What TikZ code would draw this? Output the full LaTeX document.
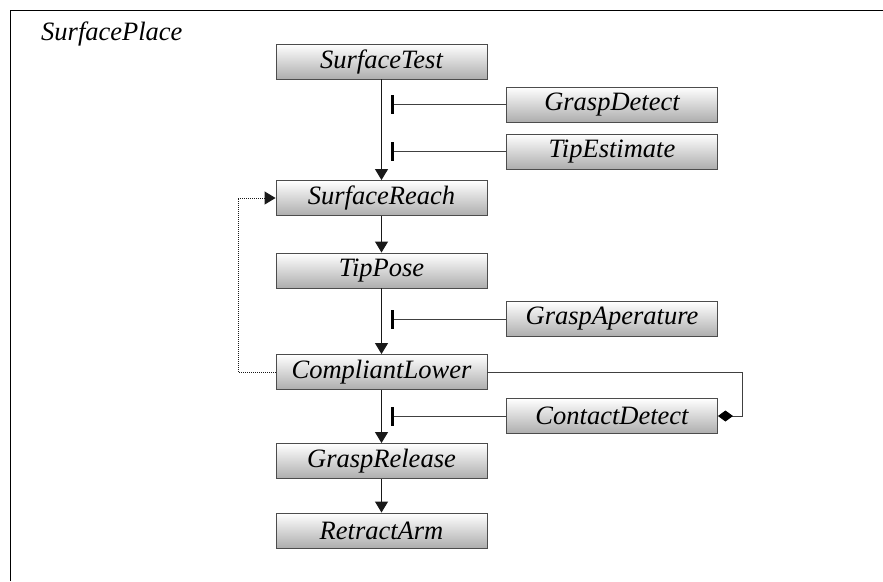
\documentclass[tikz,border=0pt]{standalone}
\usepackage{fontspec}
\setmainfont{Liberation Serif}
\usetikzlibrary{arrows.meta}
\begin{document}
\begin{tikzpicture}[x=1pt,y=-1pt,
  lbl/.style={font=\fontsize{26.5}{31}\selectfont\itshape},
  blk/.style={lbl, rectangle, draw=black!70, line width=0.9pt,
    top color=white, bottom color=black!32,
    minimum width=211pt, minimum height=35pt, inner sep=0pt},
  flow/.style={draw=black!90, line width=1pt, -{Triangle[length=11pt,width=13pt]}},
  inhib/.style={draw=black!75, line width=1pt, -{Rectangle[length=2.6pt,width=19pt,fill=black,color=black]}},
  loopback/.style={draw=black!90, line width=1pt, densely dotted,
    -{Triangle[length=11pt,width=13pt]}},
  mon/.style={draw=black!75, line width=1pt, -{Diamond[length=15pt,width=11pt,color=black]}},
  frame/.style={draw=black, line width=1pt}
]
\useasboundingbox (0,0) rectangle (883,581);

% enclosing frame (open to the right and bottom)
\coordinate (fbl) at (10,581);
\coordinate (fc) at (10,10);
\coordinate (ftr) at (883,10);
\draw[frame] (fbl) -- (fc) -- (ftr);
\node[lbl, anchor=base west, inner sep=0pt] (title) at (41,40) {SurfacePlace};

% main sequence
\node[blk] (ST) at (381.5,61.5)  {SurfaceTest};
\node[blk] (SR) at (381.5,198)   {SurfaceReach};
\node[blk] (TP) at (381.5,270.5) {TipPose};
\node[blk] (CL) at (381.5,372)   {CompliantLower};
\node[blk] (GR) at (381.5,461)   {GraspRelease};
\node[blk] (RA) at (381.5,530.5) {RetractArm};

% side conditions
\node[blk] (GD) at (612,104.5) {GraspDetect};
\node[blk] (TE) at (612,151.5) {TipEstimate};
\node[blk] (GA) at (612,319)   {GraspAperature};
\node[blk] (CD) at (612,416)   {ContactDetect};

% flow arrows
\draw[flow] (ST.south) -- (SR.north);
\draw[flow] (SR.south) -- (TP.north);
\draw[flow] (TP.south) -- (CL.north);
\draw[flow] (CL.south) -- (GR.north);
\draw[flow] (GR.south) -- (RA.north);

% guard bars next to the flow line
\coordinate (tx) at (391,0);
\draw[inhib] (GD.west) -- (tx |- GD.west);
\draw[inhib] (TE.west) -- (tx |- TE.west);
\draw[inhib] (GA.west) -- (tx |- GA.west);
\draw[inhib] (CD.west) -- (tx |- CD.west);

% retry loop
\coordinate (lp) at (238,372);
\draw[loopback] (CL.west) -- (lp) |- (SR.west);

% contact monitor
\coordinate (rp) at (742,372);
\draw[mon] (CL.east) -- (rp) |- (CD.east);
\end{tikzpicture}
\end{document}
